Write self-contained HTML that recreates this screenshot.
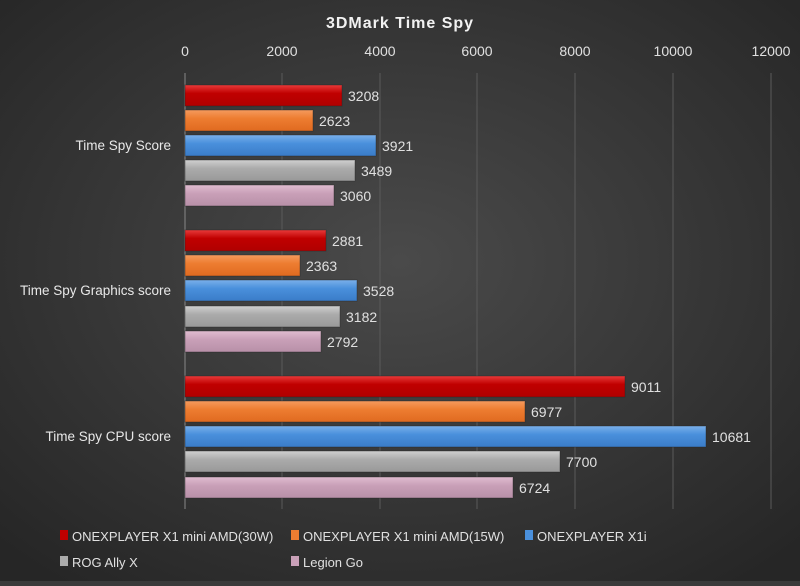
<!DOCTYPE html>
<html><head><meta charset="utf-8"><style>
body{margin:0;width:800px;height:581px;overflow:hidden;background:#3a3a3a}
svg text{font-family:"Liberation Sans",sans-serif}
</style></head><body>
<svg width="800" height="581" xmlns="http://www.w3.org/2000/svg">
<defs>
<radialGradient id="bg" cx="50%" cy="45%" r="70%"><stop offset="0" stop-color="#4a4a4a"/><stop offset="1" stop-color="#262626"/></radialGradient>
<linearGradient id="r" x1="0" y1="0" x2="0" y2="1"><stop offset="0" stop-color="#e83a3a"/><stop offset="0.4" stop-color="#c00000"/><stop offset="1" stop-color="#b00000"/></linearGradient>
<linearGradient id="o" x1="0" y1="0" x2="0" y2="1"><stop offset="0" stop-color="#f59a5e"/><stop offset="0.4" stop-color="#ed7d31"/><stop offset="1" stop-color="#e06a20"/></linearGradient>
<linearGradient id="b" x1="0" y1="0" x2="0" y2="1"><stop offset="0" stop-color="#7ab0ea"/><stop offset="0.4" stop-color="#4a90dc"/><stop offset="1" stop-color="#3a7cc8"/></linearGradient>
<linearGradient id="g" x1="0" y1="0" x2="0" y2="1"><stop offset="0" stop-color="#d0d0d0"/><stop offset="0.4" stop-color="#ababab"/><stop offset="1" stop-color="#999"/></linearGradient>
<linearGradient id="p" x1="0" y1="0" x2="0" y2="1"><stop offset="0" stop-color="#e0bcd0"/><stop offset="0.4" stop-color="#c9a0b8"/><stop offset="1" stop-color="#b890a8"/></linearGradient>
</defs>
<rect width="800" height="581" fill="url(#bg)"/>
<text x="400" y="28" text-anchor="middle" fill="#f2f2f2" font-size="16" font-weight="bold" letter-spacing="1">3DMark Time Spy</text>
<g stroke="#5a5a5a" stroke-width="1">
<line x1="282" y1="73" x2="282" y2="509"/><line x1="380" y1="73" x2="380" y2="509"/><line x1="477" y1="73" x2="477" y2="509"/><line x1="575" y1="73" x2="575" y2="509"/><line x1="673" y1="73" x2="673" y2="509"/><line x1="771" y1="73" x2="771" y2="509"/>
</g>
<line x1="185" y1="73" x2="185" y2="509" stroke="#888"/>
<g fill="#e0e0e0" font-size="14" text-anchor="middle">
<text x="185" y="56">0</text><text x="282" y="56">2000</text><text x="380" y="56">4000</text><text x="477" y="56">6000</text><text x="575" y="56">8000</text><text x="673" y="56">10000</text><text x="771" y="56">12000</text>
</g>
<g fill="#e8e8e8" font-size="13.5" text-anchor="end">
<text x="171" y="150">Time Spy Score</text><text x="171" y="295">Time Spy Graphics score</text><text x="171" y="441">Time Spy CPU score</text>
</g>
<g stroke="#222" stroke-opacity="0.4">
<rect x="185" y="85" width="157" height="21" fill="url(#r)"/>
<rect x="185" y="110" width="128" height="21" fill="url(#o)"/>
<rect x="185" y="135" width="191" height="21" fill="url(#b)"/>
<rect x="185" y="160" width="170" height="21" fill="url(#g)"/>
<rect x="185" y="185" width="149" height="21" fill="url(#p)"/>
<rect x="185" y="230" width="141" height="21" fill="url(#r)"/>
<rect x="185" y="255" width="115" height="21" fill="url(#o)"/>
<rect x="185" y="280" width="172" height="21" fill="url(#b)"/>
<rect x="185" y="306" width="155" height="21" fill="url(#g)"/>
<rect x="185" y="331" width="136" height="21" fill="url(#p)"/>
<rect x="185" y="376" width="440" height="21" fill="url(#r)"/>
<rect x="185" y="401" width="340" height="21" fill="url(#o)"/>
<rect x="185" y="426" width="521" height="21" fill="url(#b)"/>
<rect x="185" y="451" width="375" height="21" fill="url(#g)"/>
<rect x="185" y="477" width="328" height="21" fill="url(#p)"/>
</g>
<g fill="#e0e0e0" font-size="14">
<text x="348" y="101">3208</text><text x="319" y="126">2623</text><text x="382" y="151">3921</text><text x="361" y="176">3489</text><text x="340" y="201">3060</text>
<text x="332" y="246">2881</text><text x="306" y="271">2363</text><text x="363" y="296">3528</text><text x="346" y="322">3182</text><text x="327" y="347">2792</text>
<text x="631" y="392">9011</text><text x="531" y="417">6977</text><text x="712" y="442">10681</text><text x="566" y="467">7700</text><text x="519" y="493">6724</text>
</g>
<g font-size="13" fill="#e0e0e0">
<rect x="60" y="530" width="8" height="10" fill="#c00000"/><text x="72" y="541">ONEXPLAYER X1 mini AMD(30W)</text>
<rect x="291" y="530" width="8" height="10" fill="#ed7d31"/><text x="303" y="541">ONEXPLAYER X1 mini AMD(15W)</text>
<rect x="525" y="530" width="8" height="10" fill="#4a90dc"/><text x="537" y="541">ONEXPLAYER X1i</text>
<rect x="60" y="556" width="8" height="10" fill="#ababab"/><text x="72" y="567">ROG Ally X</text>
<rect x="291" y="556" width="8" height="10" fill="#c9a0b8"/><text x="303" y="567">Legion Go</text>
</g>
</svg>
</body></html>
